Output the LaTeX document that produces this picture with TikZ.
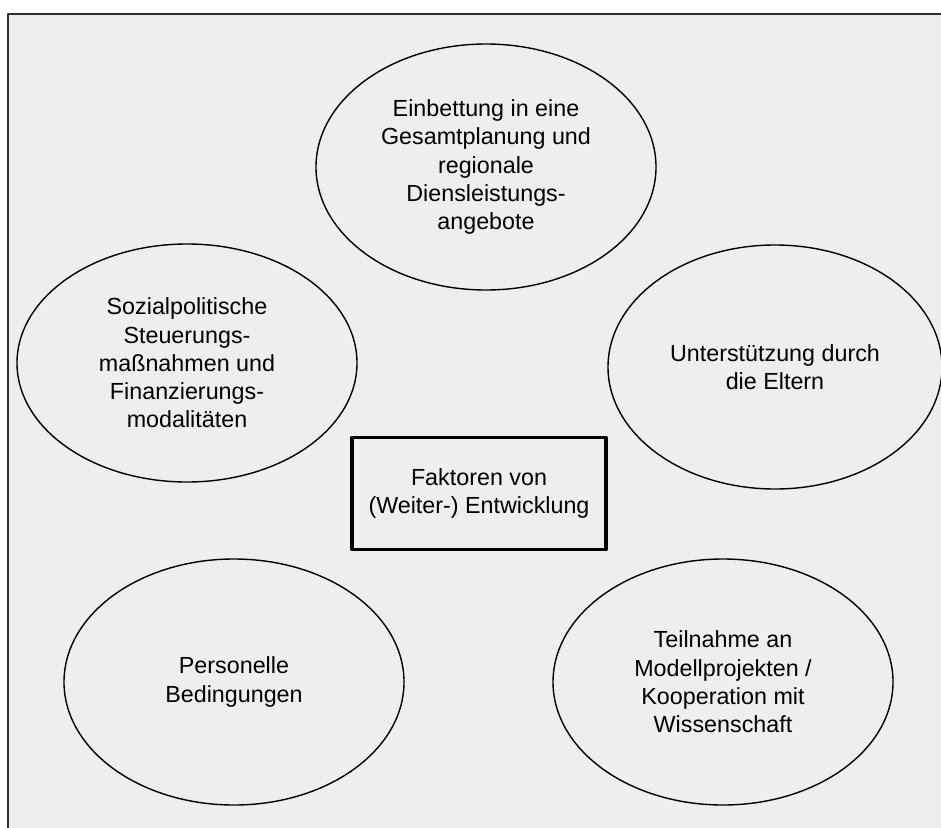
\documentclass[tikz,border=0pt]{standalone}
\usepackage{fontspec}
\setmainfont{Liberation Sans}
\usetikzlibrary{shapes.geometric}
\definecolor{bggray}{HTML}{EEEEEE}
\definecolor{framegray}{HTML}{2E2E2E}
\begin{document}
\begin{tikzpicture}[x=1pt, y=-1pt, line join=round, font=\fontsize{23.3}{28.3}\selectfont]
			\tikzset{oval/.style={ellipse, draw, line width=1.4pt, minimum width=340, minimum height=246, inner sep=0pt, align=center},
				kernbox/.style={rectangle, draw, line width=3.6pt, minimum width=254, minimum height=112, inner sep=0pt, align=center}}
			\useasboundingbox (0,0) rectangle (941,827);
			\fill[bggray] (8,14) rectangle (950,835);
			\draw[framegray, line width=2pt] (8,835)--(8,14)--(950,14);
			\node[oval] (plan) at (486,167) {Einbettung in eine\\Gesamtplanung und\\regionale\\Diensleistungs-\\angebote};
			\node[oval, minimum height=238] (sozial) at (187,363) {Sozialpolitische\\Steuerungs-\\maßnahmen und\\Finanzierungs-\\modalitäten};
			\node[oval, minimum width=334, minimum height=244] (eltern) at (775,367) {Unterstützung durch\\die Eltern};
			\node[oval] (personal) at (234,682) {Personelle\\Bedingungen};
			\node[oval] (modell) at (723,682) {Teilnahme an\\Modellprojekten /\\Kooperation mit\\Wissenschaft};
			\node[kernbox] (faktoren) at (479,493.5) {Faktoren von\\(Weiter-) Entwicklung};
		\end{tikzpicture}
\end{document}
